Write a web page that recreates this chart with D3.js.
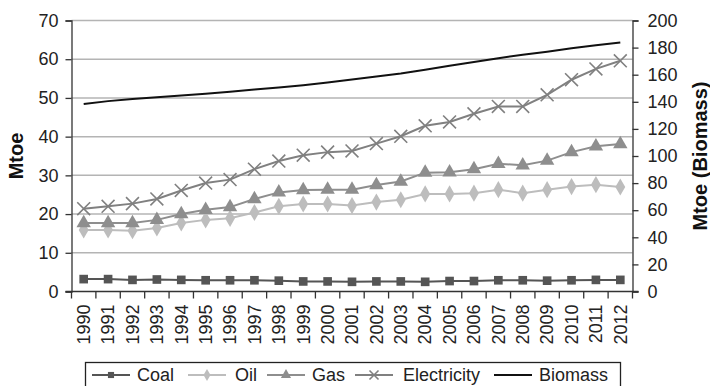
<!DOCTYPE html>
<html><head><meta charset="utf-8">
<script src="https://cdn.jsdelivr.net/npm/d3@7"></script>
<style>body{margin:0;background:#fff}svg{display:block;font-family:"Liberation Sans",Arial,sans-serif}</style>
</head><body><svg id="c" width="710" height="386"></svg>
<script>
const years = ["1990","1991","1992","1993","1994","1995","1996","1997","1998","1999","2000","2001","2002","2003","2004","2005","2006","2007","2008","2009","2010","2011","2012"];
const coal = [3.2,3.2,3.0,3.1,3.0,2.9,2.9,2.9,2.8,2.6,2.6,2.5,2.6,2.6,2.5,2.7,2.7,2.9,2.9,2.8,2.9,3.0,3.0];
const oil = [15.9,15.9,15.7,16.4,17.7,18.5,18.9,20.4,22.0,22.6,22.6,22.2,23.1,23.7,25.2,25.2,25.4,26.3,25.4,26.3,27.1,27.6,27.0];
const gas = [17.7,17.7,17.7,18.5,20.0,21.1,21.8,23.9,25.6,26.2,26.3,26.3,27.5,28.4,30.7,30.8,31.6,33.0,32.6,33.8,36.0,37.5,38.1];
const electricity = [21.4,22.0,22.7,23.9,26.1,28.0,28.9,31.6,33.7,35.2,36.0,36.3,38.2,40.1,42.8,43.8,45.9,47.8,47.8,50.8,54.7,57.5,59.6];
const biomass = [138.3,140.5,142.0,143.3,144.6,146.0,147.5,149.0,150.6,152.3,154.3,156.4,158.6,160.9,163.7,166.6,169.4,172.2,174.7,177.0,179.5,181.8,183.8];
const leftTicks = [0,10,20,30,40,50,60,70];
const rightTicks = [0,20,40,60,80,100,120,140,160,180,200];

const svg = d3.select("#c");
const L = 71.5, R = 632.5, T = 20.5, B = 291.5;
const x = d3.scaleBand().domain(years).range([L, R]);
const yL = d3.scaleLinear().domain([0,70]).range([B, T]);
const yR = d3.scaleLinear().domain([0,200]).range([B, T]);
const font = 18;

// gridlines
svg.append("g").selectAll("line").data(leftTicks.filter(d=>d>0)).join("line")
  .attr("x1", L).attr("x2", R).attr("y1", d=>yL(d)).attr("y2", d=>yL(d))
  .attr("stroke", "#b4b4b4").attr("stroke-width", 1.5);

// axes
const gL = svg.append("g").attr("transform", `translate(${L},0)`)
  .call(d3.axisLeft(yL).tickValues(leftTicks).tickSize(6).tickPadding(7));
const gR = svg.append("g").attr("transform", `translate(${R},0)`)
  .call(d3.axisRight(yR).tickValues(rightTicks).tickSize(6).tickPadding(9));
const gX = svg.append("g").attr("transform", `translate(0,${B})`)
  .call(d3.axisBottom(x).tickSize(0).tickFormat(""));
gX.selectAll(".bt").data(years.concat(["end"])).join("line").attr("class","bt")
  .attr("x1", (d,i)=> i<years.length ? x(d) : R).attr("x2",(d,i)=> i<years.length ? x(d) : R)
  .attr("y1",0).attr("y2",7).attr("stroke","#333").attr("stroke-width",1.3);
gX.selectAll(".yl").data(years).join("text").attr("class","yl")
  .attr("transform", d=>`translate(${x(d)+x.bandwidth()/2},13) rotate(-90)`)
  .attr("text-anchor","end").attr("dy","0.35em")
  .attr("font-size", font).attr("fill","#222").text(d=>d);

[gL,gR,gX].forEach(g=>{
  g.select(".domain").attr("stroke","#333").attr("stroke-width",1.3);
  g.selectAll(".tick line").attr("stroke","#333").attr("stroke-width",1.3);
  g.selectAll(".tick text").attr("font-size",font).attr("fill","#222").attr("font-family","Liberation Sans, Arial, sans-serif");
});
gX.select(".domain").attr("d", `M${L-6},0H${R+6}`);

svg.append("text").attr("transform",`translate(16,${(T+B)/2}) rotate(-90)`)
  .attr("text-anchor","middle").attr("dy","0.35em").attr("font-weight","bold").attr("font-size",20).attr("fill","#111").text("Mtoe");
svg.append("text").attr("transform",`translate(700,${(T+B)/2}) rotate(-90)`)
  .attr("text-anchor","middle").attr("dy","0.35em").attr("font-weight","bold").attr("font-size",20).attr("fill","#111").text("Mtoe (Biomass)");

const cx = d => x(d) + x.bandwidth()/2;
const series = [
  {name:"Coal", data:coal, scale:yL, color:"#555555", marker:"square"},
  {name:"Oil", data:oil, scale:yL, color:"#bdbdbd", marker:"diamond"},
  {name:"Gas", data:gas, scale:yL, color:"#8e8e8e", marker:"triangle"},
  {name:"Electricity", data:electricity, scale:yL, color:"#808080", marker:"x"},
  {name:"Biomass", data:biomass, scale:yR, color:"#111111", marker:"none"}
];
const sizes = {square:75, diamond:85, triangle:90, x:110};
function drawMarker(g, m, color, k){
  if (m==="none") return;
  const types = {square:d3.symbolSquare, diamond:d3.symbolDiamond, triangle:d3.symbolTriangle, x:d3.symbolTimes};
  const p = d3.symbol().type(types[m]).size(sizes[m]*k)();
  if (m==="x") g.append("path").attr("d", p).attr("fill","none").attr("stroke",color).attr("stroke-width",1.6);
  else g.append("path").attr("d", p).attr("fill",color);
}
series.forEach(s=>{
  const line = d3.line().x((d,i)=>cx(years[i])).y(d=>s.scale(d));
  svg.append("path").datum(s.data).attr("d", line).attr("fill","none")
    .attr("stroke", s.color).attr("stroke-width", 2);
  s.data.forEach((v,i)=>{
    const g = svg.append("g").attr("transform",`translate(${cx(years[i])},${s.scale(v)})`);
    drawMarker(g, s.marker, s.color, 1);
  });
});

// legend
const lg = svg.append("g");
lg.append("rect").attr("x",85.5).attr("y",362.5).attr("width",535).attr("height",30)
  .attr("fill","#fff").attr("stroke","#222").attr("stroke-width",1.3);
const items = [
  {s:series[0], x0:92, tx:137},
  {s:series[1], x0:188, tx:235},
  {s:series[2], x0:267, tx:312},
  {s:series[3], x0:355, tx:403},
  {s:series[4], x0:494, tx:539}
];
const ly = 375;
items.forEach(it=>{
  lg.append("line").attr("x1",it.x0).attr("x2",it.x0+38).attr("y1",ly).attr("y2",ly)
    .attr("stroke",it.s.color).attr("stroke-width",2);
  const g = lg.append("g").attr("transform",`translate(${it.x0+19},${ly})`);
  drawMarker(g, it.s.marker, it.s.color, 0.5);
  lg.append("text").attr("x",it.tx).attr("y",ly).attr("dy","0.35em").attr("font-size",font).attr("fill","#222").text(it.s.name);
});
</script></body></html>
